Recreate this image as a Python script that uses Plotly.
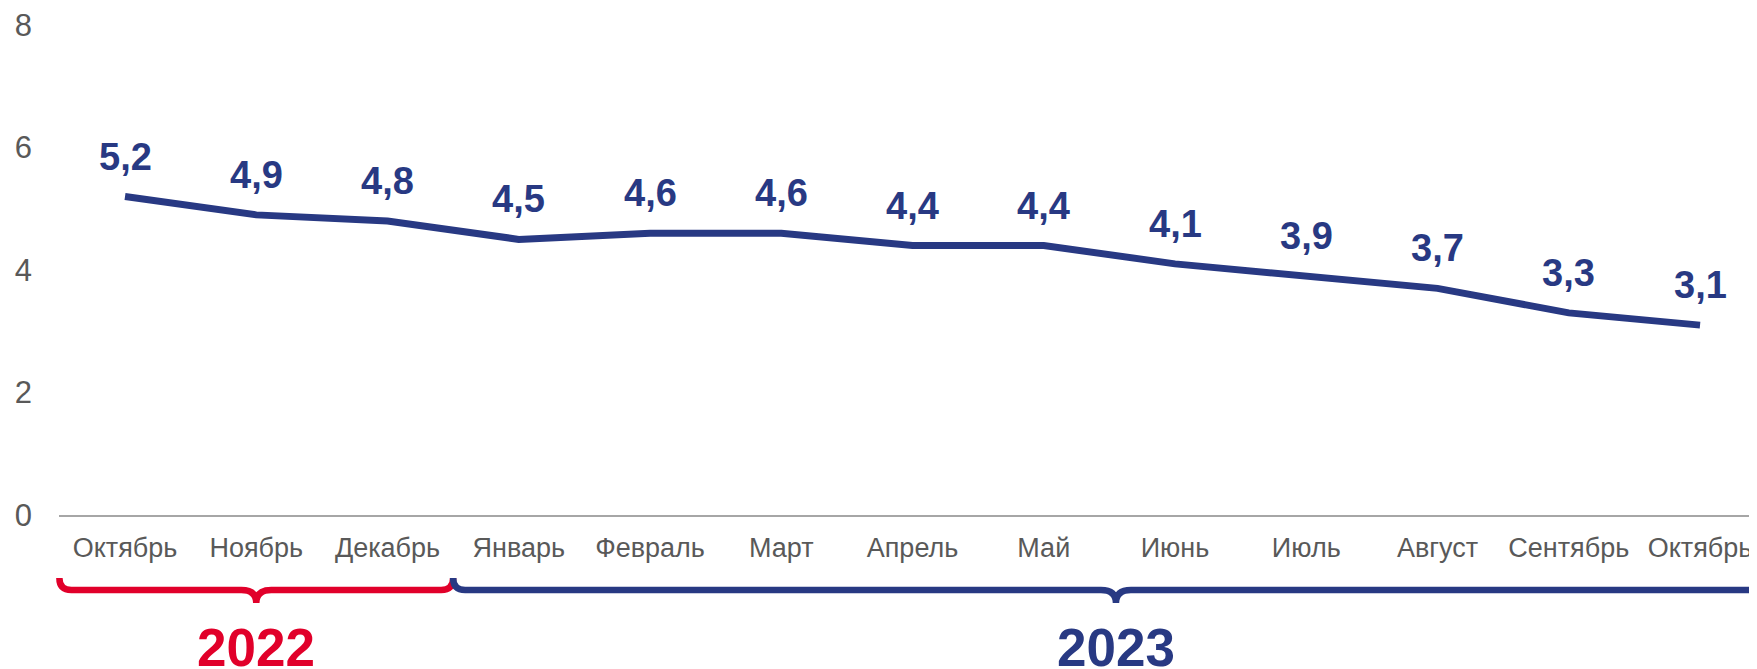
import plotly.graph_objects as go

months = ["Октябрь", "Ноябрь", "Декабрь", "Январь", "Февраль", "Март", "Апрель",
          "Май", "Июнь", "Июль", "Август", "Сентябрь", "Октябрь"]
values = [5.2, 4.9, 4.8, 4.5, 4.6, 4.6, 4.4, 4.4, 4.1, 3.9, 3.7, 3.3, 3.1]
years = ["2022", "2023"]
year_spans = [(-0.5, 2.5), (2.5, 12.6)]
year_colors = ["#E1002A", "#283983"]
y_ticks = [0, 2, 4, 6, 8]

NAVY = "#283983"
GRAY = "#595959"

# page body has an 8px margin; lay out relative to the window
OFF = 8
W, H = 1757 - OFF, 669 - OFF
ML, MR, MT, MB = 59 - OFF, 0, 25 - OFF, 154
X_RANGE = [-0.503, 12.434]
Y_RANGE = [0, 8]
PW = W - ML - MR
PH = H - MT - MB

def px_to_paper_x(px):
    # px in window coordinates
    return (px - OFF - ML) / PW

def py_to_paper_y(py):
    return (H - MB - (py - OFF)) / PH

def data_x_to_px(x):
    return OFF + ML + (x - X_RANGE[0]) / (X_RANGE[1] - X_RANGE[0]) * PW

xs = list(range(len(months)))
labels = [f"{v:.1f}".replace(".", ",") for v in values]

fig = go.Figure()
fig.add_trace(go.Scatter(
    x=xs, y=values, mode="lines",
    line=dict(color=NAVY, width=7),
    hoverinfo="skip", showlegend=False, cliponaxis=False,
))

annotations = []
for x, v, t in zip(xs, values, labels):
    annotations.append(dict(
        x=x, y=v, xref="x", yref="y", text=t, showarrow=False,
        yanchor="middle", xanchor="center", yshift=40,
        font=dict(family="Liberation Sans", size=38, color=NAVY, weight="bold"),
    ))

shapes = []
TOP, BAR, TIP = 578, 590, 603
R, RM = 12, 15
for (a, b), year, col in zip(year_spans, years, year_colors):
    x0 = data_x_to_px(a)
    x1 = data_x_to_px(b)
    mid = (x0 + x1) / 2
    pts = [
        ("M", [(x0, TOP)]),
        ("Q", [(x0, BAR), (x0 + R, BAR)]),
        ("L", [(mid - RM, BAR)]),
        ("Q", [(mid, BAR), (mid, TIP)]),
        ("Q", [(mid, BAR), (mid + RM, BAR)]),
        ("L", [(x1 - R, BAR)]),
        ("Q", [(x1, BAR), (x1, TOP)]),
    ]
    path = ""
    for cmd, ps in pts:
        path += cmd + " " + " ".join(f"{px_to_paper_x(p[0]):.5f},{py_to_paper_y(p[1]):.5f}" for p in ps) + " "
    shapes.append(dict(type="path", xref="paper", yref="paper", path=path.strip(),
                       line=dict(color=col, width=6.5)))
    annotations.append(dict(
        x=px_to_paper_x(mid), y=py_to_paper_y(647), xref="paper", yref="paper",
        text=year, showarrow=False, xanchor="center", yanchor="middle",
        font=dict(family="Liberation Sans", size=53, color=col, weight="bold"),
    ))

fig.update_layout(
    width=W, height=H,
    margin=dict(l=ML, r=MR, t=MT, b=MB, pad=0),
    paper_bgcolor="white", plot_bgcolor="white",
    shapes=shapes, annotations=annotations,
    xaxis=dict(
        range=X_RANGE, tickmode="array", tickvals=xs, ticktext=months,
        showgrid=False, zeroline=False, showline=True, linecolor="#A6A6A6", linewidth=1.5,
        ticks="", ticklabelstandoff=8,
        tickfont=dict(family="Liberation Sans", size=27, color=GRAY),
    ),
    yaxis=dict(
        range=Y_RANGE, tickmode="array", tickvals=y_ticks,
        showgrid=False, zeroline=False, showline=False, ticks="",
        ticklabelstandoff=26, ticklabeloverflow="allow",
        tickfont=dict(family="Liberation Sans", size=31, color=GRAY),
    ),
)

fig.write_html("out.html")
